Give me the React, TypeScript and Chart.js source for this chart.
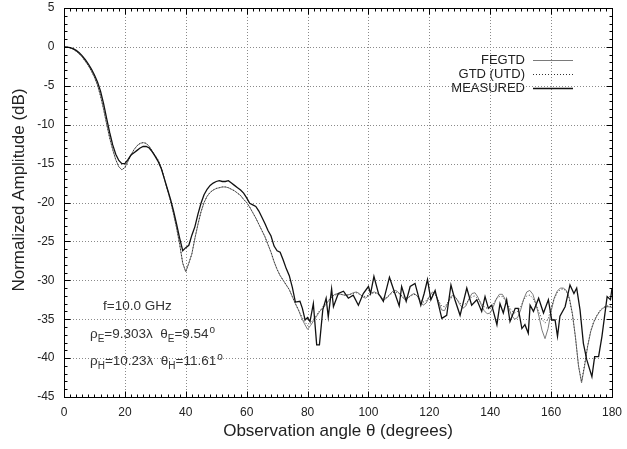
import React, { useEffect, useRef } from 'react';
import { Chart, registerables } from 'chart.js';

Chart.register(...registerables);

const FONT = "'Liberation Sans', Arial, Helvetica, sans-serif";

// x grid for the theoretical curves (degrees)
const theoryAngles: number[] = Array.from({ length: 181 }, (_, i) => i);

const fegtdValues: number[] = [
  0, -0.03, -0.12, -0.3, -0.55, -0.9, -1.3, -1.85, -2.4, -3.1,
  -3.9, -4.9, -6.3, -8.0, -9.9, -11.7, -13.2, -14.5, -15.4, -15.8,
  -15.5, -14.7, -13.9, -13.2, -12.7, -12.4, -12.3, -12.4, -12.8, -13.4,
  -14.0, -14.6, -15.6, -17.0, -18.4, -19.8, -21.5, -23.3, -25.4, -27.8,
  -28.9, -27.8, -26.6, -24.6, -22.8, -21.2, -20.0, -19.2, -18.7, -18.4,
  -18.2, -18.1, -18.0, -18.0, -18.1, -18.3, -18.5, -18.8, -19.1, -19.6,
  -20.0, -20.6, -21.3, -22.0, -22.8, -23.6, -24.4, -25.4, -26.4, -27.6,
  -28.6, -29.4, -30.0, -30.6, -31.2, -32.1, -33.0, -33.8, -34.8, -35.6,
  -36.3, -35.8, -35.2, -34.6, -34.0, -33.6, -33.1, -32.6, -32.1, -31.8,
  -31.7, -31.8, -31.9, -31.9, -31.8, -31.6, -31.5, -31.7, -32.1, -32.3,
  -32.0, -31.6, -31.5, -31.7, -32.1, -32.5, -32.3, -31.8, -31.4, -31.3,
  -31.6, -32.1, -32.5, -32.3, -31.9, -31.7, -32.0, -32.7, -33.2, -32.9,
  -32.1, -31.5, -31.7, -32.7, -33.8, -33.9, -33.0, -32.1, -31.9, -32.4,
  -33.1, -33.6, -33.3, -32.4, -31.7, -31.6, -32.2, -33.1, -33.9, -34.3,
  -34.2, -33.4, -32.4, -31.8, -31.8, -32.5, -33.5, -34.5, -35.0, -34.8,
  -33.8, -32.4, -31.5, -31.3, -31.8, -33.0, -34.6, -36.4, -37.5, -36.2,
  -34.0, -32.3, -31.4, -31.0, -31.0, -31.3, -32.3, -34.3, -37.3, -41.0,
  -43.2, -41.0, -38.5, -36.6, -35.4, -34.6, -34.0, -33.6, -33.4, -33.4, -33.5,
];

const gtdValues: number[] = [
  0, -0.03, -0.12, -0.3, -0.55, -0.9, -1.3, -1.85, -2.4, -3.1,
  -3.9, -4.9, -6.3, -8.0, -9.9, -11.7, -13.2, -14.5, -15.4, -15.8,
  -15.5, -14.7, -13.9, -13.2, -12.7, -12.4, -12.3, -12.4, -12.8, -13.4,
  -14.0, -14.6, -15.6, -17.0, -18.4, -19.8, -21.5, -23.3, -25.4, -27.8,
  -28.9, -27.8, -26.6, -24.6, -22.8, -21.2, -20.0, -19.2, -18.7, -18.4,
  -18.2, -18.1, -18.0, -18.0, -18.1, -18.3, -18.5, -18.8, -19.1, -19.6,
  -20.0, -20.6, -21.3, -22.0, -22.8, -23.6, -24.4, -25.4, -26.4, -27.6,
  -28.6, -29.4, -30.0, -30.6, -31.2, -32.1, -33.0, -33.8, -34.6, -35.3,
  -35.8, -35.5, -35.0, -34.4, -33.9, -33.4, -32.9, -32.5, -32.1, -31.9,
  -31.8, -31.8, -31.9, -31.9, -31.8, -31.7, -31.6, -31.8, -32.0, -32.1,
  -31.9, -31.7, -31.6, -31.8, -32.0, -32.3, -32.2, -31.9, -31.6, -31.5,
  -31.7, -32.0, -32.3, -32.2, -32.0, -31.8, -32.0, -32.5, -32.8, -32.6,
  -32.1, -31.8, -31.9, -32.6, -33.3, -33.4, -32.9, -32.3, -32.1, -32.4,
  -32.9, -33.2, -33.0, -32.5, -32.1, -32.0, -32.4, -32.9, -33.4, -33.6,
  -33.5, -33.0, -32.4, -32.1, -32.1, -32.6, -33.3, -33.9, -34.2, -34.0,
  -33.4, -32.5, -32.0, -31.9, -32.3, -33.1, -34.1, -35.0, -35.5, -35.0,
  -33.6, -32.4, -31.6, -31.2, -31.1, -31.4, -32.4, -34.4, -37.4, -41.0,
  -43.0, -40.8, -38.4, -36.5, -35.3, -34.5, -33.9, -33.5, -33.3, -33.3, -33.4,
];

const measuredAngles: number[] = [
  0, 1, 2, 3, 4, 5, 6, 7, 8, 9,
  10, 11, 12, 13, 14, 15, 16, 17, 18, 19,
  20, 21, 22, 23, 24, 25, 26, 27, 28, 29,
  30, 31, 32, 33, 34, 35, 36, 37, 38, 39,
  40, 41, 42, 43, 44, 45, 46, 47, 48, 49,
  50, 51, 52, 53, 54, 55, 56, 57, 58, 59,
  60, 61, 62, 63, 64, 65, 66, 67, 68, 69,
  70, 71, 72, 73, 74, 75, 76,
  77.5, 78.3, 79.2, 80.0, 80.8, 81.9, 83.0, 83.9, 85.0, 86.1, 86.8, 87.9, 88.5,
  90.1, 91.8, 93.4, 95.0, 96.7, 98.3, 100.0, 100.7, 101.8, 103.3, 104.9, 106.9,
  108.7, 110.1, 110.9, 112.4, 113.7, 115.3, 117.2, 118.3, 119.4, 120.5, 121.9,
  124.1, 125.7, 127.1, 128.4, 130.1, 132.3, 133.9, 135.6, 137.2, 138.3, 139.4,
  140.5, 142.2, 143.2, 144.3, 145.4, 146.5, 148.2, 149.2, 150.4, 151.4, 152.5,
  153.1, 154.2, 155.9, 157.5, 159.1, 160.2, 161.3, 162.1, 162.9, 164.6, 166.2,
  167.5, 168.4, 169.5, 170.6, 171.7, 173.4, 174.3, 175.6, 176.7, 178.4, 179.5, 180,
];

const measuredValues: number[] = [
  0, -0.02, -0.08, -0.22, -0.45, -0.75, -1.15, -1.65, -2.2, -2.85,
  -3.6, -4.5, -5.7, -7.3, -9.2, -11.0, -12.6, -13.8, -14.6, -15.0,
  -15.0, -14.5, -13.9, -13.6, -13.3, -13.0, -12.8, -12.8, -13.0, -13.5,
  -14.1, -14.8, -15.7, -17.0, -18.3, -19.6, -21.1, -22.8, -24.6, -26.2,
  -25.8, -25.5, -24.2, -23.1, -21.5, -20.1, -19.0, -18.3, -17.8, -17.5,
  -17.3, -17.2, -17.3, -17.3, -17.2, -17.5, -17.8, -18.1, -18.4, -18.8,
  -19.4, -20.1, -20.3, -20.5, -21.1, -21.9, -22.7, -23.6, -24.3, -25.6,
  -26.2, -26.4, -27.4, -28.5, -29.4, -30.9, -32.8,
  -32.7, -33.6, -35.1, -34.8, -35.3, -33.0, -38.3, -38.3, -33.8, -32.3, -34.7, -31.1, -33.4,
  -31.7, -31.4, -32.3, -31.9, -33.2, -31.7, -30.8, -31.7, -29.5, -31.7, -32.7, -29.6,
  -31.7, -33.3, -30.8, -32.7, -30.8, -30.4, -33.2, -31.7, -29.9, -32.5, -31.3,
  -34.9, -34.5, -30.6, -32.5, -34.5, -31.0, -33.2, -32.5, -34.0, -32.1, -33.6,
  -33.2, -35.7, -33.0, -34.2, -32.5, -35.3, -33.6, -33.6, -36.2, -35.7, -36.8,
  -33.2, -34.0, -32.3, -34.2, -32.5, -35.1, -35.1, -37.2, -34.6, -33.4, -30.6,
  -31.7, -31.0, -33.8, -38.1, -40.2, -42.4, -39.8, -39.8, -37.2, -32.1, -32.5, -31.0,
];

const xTickLabels: number[] = [0, 20, 40, 60, 80, 100, 120, 140, 160, 180];
const yTickLabels: number[] = [5, 0, -5, -10, -15, -20, -25, -30, -35, -40, -45];

const seriesNames: string[] = ['FEGTD', 'GTD (UTD)', 'MEASURED'];
const xTitle = 'Observation angle \u03b8 (degrees)';
const yTitle = 'Normalized Amplitude (dB)';

type Part = { t: string; sub?: boolean; sup?: boolean };
const noteLines: Part[][] = [
  [{ t: 'f=10.0 GHz' }],
  [{ t: '\u03c1' }, { t: 'E', sub: true }, { t: '=9.303\u03bb  \u03b8' }, { t: 'E', sub: true }, { t: '=9.54' }, { t: 'o', sup: true }],
  [{ t: '\u03c1' }, { t: 'H', sub: true }, { t: '=10.23\u03bb  \u03b8' }, { t: 'H', sub: true }, { t: '=11.61' }, { t: 'o', sup: true }],
];

function toXY(xs: number[], ys: number[]) {
  return xs.map((x, i) => ({ x, y: ys[i] }));
}

export default function App() {
  const ref = useRef<HTMLCanvasElement>(null);

  useEffect(() => {
    const canvas = ref.current;
    if (!canvas) return;

    const decor = {
      id: 'decor',
      beforeDatasetsDraw(chart: any) {
        const { ctx, chartArea: a, scales } = chart;
        const xs = scales.x;
        const ys = scales.y;
        ctx.save();
        ctx.strokeStyle = '#8a8a8a';
        ctx.lineWidth = 1;
        ctx.setLineDash([1, 2]);
        for (let v = 20; v < 180; v += 20) {
          const px = Math.round(xs.getPixelForValue(v)) + 0.5;
          ctx.beginPath();
          ctx.moveTo(px, a.top);
          ctx.lineTo(px, a.bottom);
          ctx.stroke();
        }
        for (let v = -40; v < 5; v += 5) {
          const py = Math.round(ys.getPixelForValue(v)) + 0.5;
          ctx.beginPath();
          ctx.moveTo(a.left, py);
          ctx.lineTo(a.right, py);
          ctx.stroke();
        }
        ctx.restore();
      },
      afterDatasetsDraw(chart: any) {
        const { ctx, chartArea: a, scales } = chart;
        const xs = scales.x;
        const ys = scales.y;
        ctx.save();
        ctx.setLineDash([]);
        ctx.strokeStyle = '#000';
        ctx.lineWidth = 1;
        const L = Math.round(a.left) + 0.5;
        const R = Math.round(a.right) + 0.5;
        const T = Math.round(a.top) + 0.5;
        const B = Math.round(a.bottom) + 0.5;
        ctx.strokeRect(L, T, R - L, B - T);
        for (let v = 0; v <= 180; v += 2) {
          const px = Math.round(xs.getPixelForValue(v)) + 0.5;
          const len = v % 20 === 0 ? 6 : 3;
          ctx.beginPath();
          ctx.moveTo(px, B);
          ctx.lineTo(px, B - len);
          ctx.moveTo(px, T);
          ctx.lineTo(px, T + len);
          ctx.stroke();
        }
        for (let v = -45; v <= 5; v += 1) {
          const py = Math.round(ys.getPixelForValue(v)) + 0.5;
          const len = v % 5 === 0 ? 6 : 3;
          ctx.beginPath();
          ctx.moveTo(L, py);
          ctx.lineTo(L + len, py);
          ctx.moveTo(R, py);
          ctx.lineTo(R - len, py);
          ctx.stroke();
        }

        // tick labels
        ctx.fillStyle = '#222';
        ctx.font = `12px ${FONT}`;
        ctx.textAlign = 'center';
        ctx.textBaseline = 'middle';
        xTickLabels.forEach((v) => {
          ctx.fillText(String(v), xs.getPixelForValue(v), B + 15);
        });
        ctx.textAlign = 'right';
        yTickLabels.forEach((v) => {
          ctx.fillText(String(v), L - 10, ys.getPixelForValue(v));
        });

        // legend
        ctx.font = `13px ${FONT}`;
        ctx.fillStyle = '#222';
        ctx.textAlign = 'right';
        ctx.textBaseline = 'middle';
        const styles = [
          { color: '#7a7a7a', dash: [] as number[], w: 1 },
          { color: '#333', dash: [1, 2], w: 1 },
          { color: '#111', dash: [] as number[], w: 1.4 },
        ];
        seriesNames.forEach((name, i) => {
          const yy = a.top + 52 + i * 14;
          ctx.fillText(name, a.right - 87, yy);
          ctx.beginPath();
          ctx.setLineDash(styles[i].dash);
          ctx.strokeStyle = styles[i].color;
          ctx.lineWidth = styles[i].w;
          ctx.moveTo(a.right - 79, Math.round(yy) + 0.5);
          ctx.lineTo(a.right - 39, Math.round(yy) + 0.5);
          ctx.stroke();
        });
        ctx.setLineDash([]);

        // notes
        ctx.textAlign = 'left';
        ctx.textBaseline = 'alphabetic';
        ctx.fillStyle = '#333';
        const starts = [
          { x: a.left + 39, y: 310 },
          { x: a.left + 26, y: 338 },
          { x: a.left + 26, y: 365 },
        ];
        noteLines.forEach((parts, li) => {
          let cx = starts[li].x;
          const by = starts[li].y;
          parts.forEach((p) => {
            if (p.sub) {
              ctx.font = `10px ${FONT}`;
              ctx.fillText(p.t, cx, by + 4);
            } else if (p.sup) {
              ctx.font = `10px ${FONT}`;
              ctx.fillText(p.t, cx + 1, by - 5);
            } else {
              ctx.font = `13.5px ${FONT}`;
              ctx.fillText(p.t, cx, by);
            }
            cx += ctx.measureText(p.t).width;
          });
        });

        // axis titles
        ctx.fillStyle = '#222';
        ctx.font = `17px ${FONT}`;
        ctx.textAlign = 'center';
        ctx.textBaseline = 'middle';
        ctx.fillText(xTitle, (a.left + a.right) / 2, 431);
        ctx.save();
        ctx.translate(19, 190);
        ctx.rotate(-Math.PI / 2);
        ctx.fillText(yTitle, 0, 0);
        ctx.restore();
        ctx.restore();
      },
    };

    const chart = new Chart(canvas, {
      type: 'line',
      data: {
        datasets: [
          {
            label: seriesNames[2],
            data: toXY(measuredAngles, measuredValues),
            borderColor: '#111',
            borderWidth: 1.3,
            pointRadius: 0,
            tension: 0,
            fill: false,
          },
          {
            label: seriesNames[1],
            data: toXY(theoryAngles, gtdValues),
            borderColor: '#333',
            borderWidth: 1,
            borderDash: [1, 2],
            pointRadius: 0,
            tension: 0,
            fill: false,
          },
          {
            label: seriesNames[0],
            data: toXY(theoryAngles, fegtdValues),
            borderColor: '#7a7a7a',
            borderWidth: 1,
            pointRadius: 0,
            tension: 0,
            fill: false,
          },
        ],
      },
      options: {
        responsive: false,
        animation: false,
        devicePixelRatio: 1,
        layout: { padding: { top: 8, right: 15, left: 0, bottom: 0 } },
        plugins: { legend: { display: false }, tooltip: { enabled: false }, title: { display: false } },
        scales: {
          x: {
            type: 'linear',
            min: 0,
            max: 180,
            afterFit(s: any) { s.height = 52; },
            grid: { display: false, drawTicks: false },
            border: { display: false },
            ticks: { display: false, stepSize: 20 },
          },
          y: {
            type: 'linear',
            min: -45,
            max: 5,
            afterFit(s: any) { s.width = 64; },
            grid: { display: false, drawTicks: false },
            border: { display: false },
            ticks: { display: false, stepSize: 5 },
          },
        },
      },
      plugins: [decor],
    } as any);

    return () => chart.destroy();
  }, []);

  return (
    <div style={{ position: 'fixed', left: 0, top: 0, width: 627, height: 449, background: '#fff' }}>
      <canvas ref={ref} width={627} height={449} style={{ display: 'block', width: 627, height: 449 }} />
    </div>
  );
}
